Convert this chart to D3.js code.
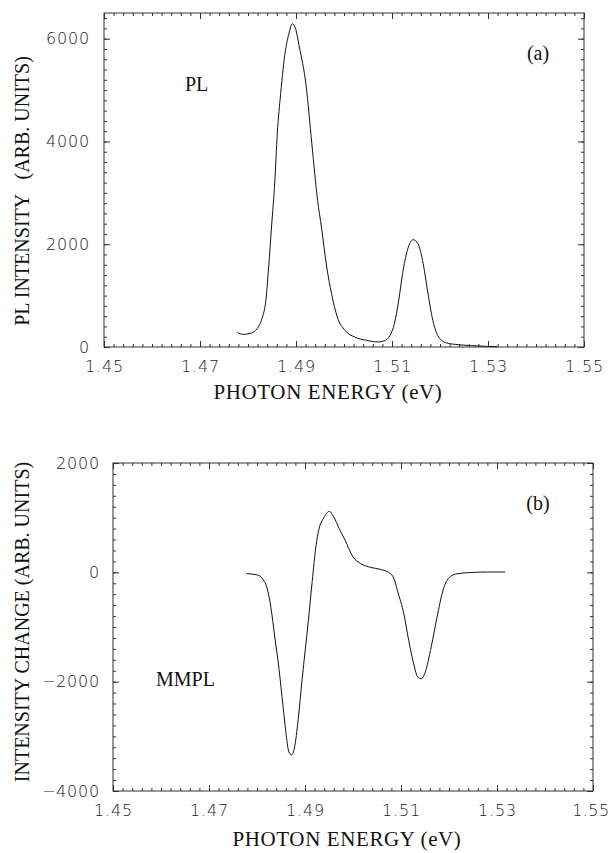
<!DOCTYPE html>
<html>
<head>
<meta charset="utf-8">
<script src="https://cdn.jsdelivr.net/npm/d3@7"></script>
<style>
  body { margin: 0; background: #fff; }
  .tick text { font-family: "DejaVu Sans", sans-serif; font-weight: 200; font-size: 16px; letter-spacing: 0.8px; fill: #222; }
  .tick line { stroke: #333; }
  .lbl { font-family: "Liberation Serif", serif; font-size: 20px; fill: #111; }
</style>
</head>
<body>
<div id="container"></div>
<script>

// 1 - DATA

// panel (a): PL spectrum
const plEnergy = [1.4778, 1.4791, 1.4807, 1.4819, 1.4829, 1.4838, 1.4843, 1.4849, 1.4856, 1.4861, 1.4868,
  1.4878, 1.4886, 1.4892, 1.4898, 1.4907, 1.4921, 1.4933, 1.4945, 1.4953, 1.4964, 1.4974, 1.4986,
  1.5002, 1.5022, 1.5047, 1.5071, 1.5083, 1.5096, 1.5105, 1.5114, 1.5122, 1.5132, 1.5144, 1.5154,
  1.5165, 1.5175, 1.5185, 1.5197, 1.5214, 1.5238, 1.5266, 1.5299, 1.5319];
const plIntensity = [279, 246, 272, 357, 551, 973, 1556, 2335, 3243, 4150, 4929,
  5772, 6128, 6290, 6226, 5837, 5091, 3956, 2853, 2335, 1556, 1038, 584,
  324, 195, 130, 97, 117, 227, 454, 908, 1427, 1881, 2088, 2010,
  1621, 1038, 519, 195, 78, 45, 26, 13, 6];

// panel (b): MMPL intensity change
const mmplEnergy = [1.4778, 1.4801, 1.4813, 1.4821, 1.4829, 1.4837, 1.4846, 1.4854, 1.4860, 1.4866, 1.4872,
  1.4878, 1.4886, 1.4894, 1.4907, 1.4915, 1.4923, 1.4929, 1.4939, 1.4951, 1.4959, 1.4972, 1.4984,
  1.5000, 1.5016, 1.5037, 1.5057, 1.5077, 1.5085, 1.5093, 1.5106, 1.5116, 1.5126, 1.5134, 1.5142,
  1.5150, 1.5163, 1.5175, 1.5187, 1.5199, 1.5215, 1.5240, 1.5280, 1.5317];
const mmplChange = [-24, -48, -137, -287, -645, -1182, -1779, -2436, -2913, -3272, -3343,
  -3212, -2675, -1958, -884, -167, 490, 788, 997, 1116, 1027, 788, 579,
  281, 161, 90, 54, -18, -107, -346, -764, -1242, -1660, -1899, -1946,
  -1839, -1361, -824, -346, -107, -30, -6, 6, 6];

// tick labels
const xTicks = [1.45, 1.47, 1.49, 1.51, 1.53, 1.55];
const plTicks = [0, 2000, 4000, 6000];
const mmplTicks = [-4000, -2000, 0, 2000];


// 2 - SVG

const width = 610;
const height = 853;

const svg = d3.select("#container")
  .append("svg")
  .attr("width", width)
  .attr("height", height)

const fmtY = d => d < 0 ? "\u2212" + Math.abs(d) : String(d);


// 3 - one panel = frame + inward ticks on all four sides + curve

function drawPanel(p) {
  const x = d3.scaleLinear().domain([1.45, 1.55]).range([p.left, p.right])
  const y = d3.scaleLinear().domain(p.yDomain).range([p.bottom, p.top])

  const xMinor = d3.range(0, 51).map(i => 1.45 + i * 0.002)
  const yMinor = d3.range(p.yDomain[0], p.yDomain[1] + 1, 200)

  // minor ticks, no labels
  svg.append("g").attr("transform", `translate(0,${p.bottom})`)
    .call(d3.axisBottom(x).tickValues(xMinor).tickSize(-3).tickFormat(""))
  svg.append("g").attr("transform", `translate(0,${p.top})`)
    .call(d3.axisTop(x).tickValues(xMinor).tickSize(-3).tickFormat(""))
  svg.append("g").attr("transform", `translate(${p.left},0)`)
    .call(d3.axisLeft(y).tickValues(yMinor).tickSize(-3).tickFormat(""))
  svg.append("g").attr("transform", `translate(${p.right},0)`)
    .call(d3.axisRight(y).tickValues(yMinor).tickSize(-3).tickFormat(""))

  // major ticks with labels
  const xAxisG = svg.append("g").attr("transform", `translate(0,${p.bottom})`)
    .call(d3.axisBottom(x).tickValues(xTicks).tickSize(-6).tickPadding(14).tickFormat(d3.format(".2f")))
  svg.append("g").attr("transform", `translate(0,${p.top})`)
    .call(d3.axisTop(x).tickValues(xTicks).tickSize(-6).tickFormat(""))
  svg.append("g").attr("transform", `translate(${p.left},0)`)
    .call(d3.axisLeft(y).tickValues(p.yTicks).tickSize(-6).tickPadding(p.yPad).tickFormat(fmtY))
  svg.append("g").attr("transform", `translate(${p.right},0)`)
    .call(d3.axisRight(y).tickValues(p.yTicks).tickSize(-6).tickFormat(""))

  // last x label sits at the page edge, keep it inside
  if (p.right > 588) {
    xAxisG.selectAll(".tick text").filter(d => d === 1.55)
      .attr("text-anchor", "end").attr("x", width - 1 - p.right).style("letter-spacing", "0.4px")
  }

  svg.selectAll(".domain").remove()

  // frame
  svg.append("rect")
    .attr("x", p.left).attr("y", p.top)
    .attr("width", p.right - p.left).attr("height", p.bottom - p.top)
    .attr("fill", "none").attr("stroke", "#333").attr("stroke-width", 1)

  // curve
  const pts = p.xs.map((e, i) => [e, p.ys[i]])
  svg.append("path")
    .datum(pts)
    .attr("fill", "none")
    .attr("stroke", "#111")
    .attr("stroke-width", 1)
    .attr("d", d3.line().x(d => x(d[0])).y(d => y(d[1])).curve(d3.curveMonotoneX))

  // labels
  svg.append("text").attr("class", "lbl")
    .attr("x", p.xLabel[0]).attr("y", p.xLabel[1])
    .attr("text-anchor", "middle").style("font-size", "21px").style("letter-spacing", "0.6px")
    .text("PHOTON ENERGY (eV)")

  svg.append("text").attr("class", "lbl")
    .attr("transform", `translate(${p.yLabel[0]},${p.yLabel[1]}) rotate(-90)`)
    .attr("text-anchor", "middle")
    .style("white-space", "pre")
    .text(p.yTitle)

  svg.append("text").attr("class", "lbl")
    .attr("x", p.tag[0]).attr("y", p.tag[1]).attr("text-anchor", "middle")
    .text(p.tagText)

  svg.append("text").attr("class", "lbl")
    .attr("x", p.name[0]).attr("y", p.name[1])
    .text(p.nameText)
}

drawPanel({
  left: 104, right: 584, top: 13, bottom: 347,
  yDomain: [0, 6500], yTicks: plTicks, yPad: 14,
  xs: plEnergy, ys: plIntensity,
  xLabel: [328, 399],
  yLabel: [29, 191], yTitle: "PL INTENSITY   (ARB. UNITS)",
  tag: [538, 60], tagText: "(a)",
  name: [185, 91], nameText: "PL"
})

drawPanel({
  left: 113, right: 593, top: 463, bottom: 791,
  yDomain: [-4000, 2000], yTicks: mmplTicks, yPad: 13,
  xs: mmplEnergy, ys: mmplChange,
  xLabel: [347, 846],
  yLabel: [29, 622], yTitle: "INTENSITY CHANGE (ARB. UNITS)",
  tag: [538, 510], tagText: "(b)",
  name: [156, 686], nameText: "MMPL"
})

</script>
</body>
</html>
